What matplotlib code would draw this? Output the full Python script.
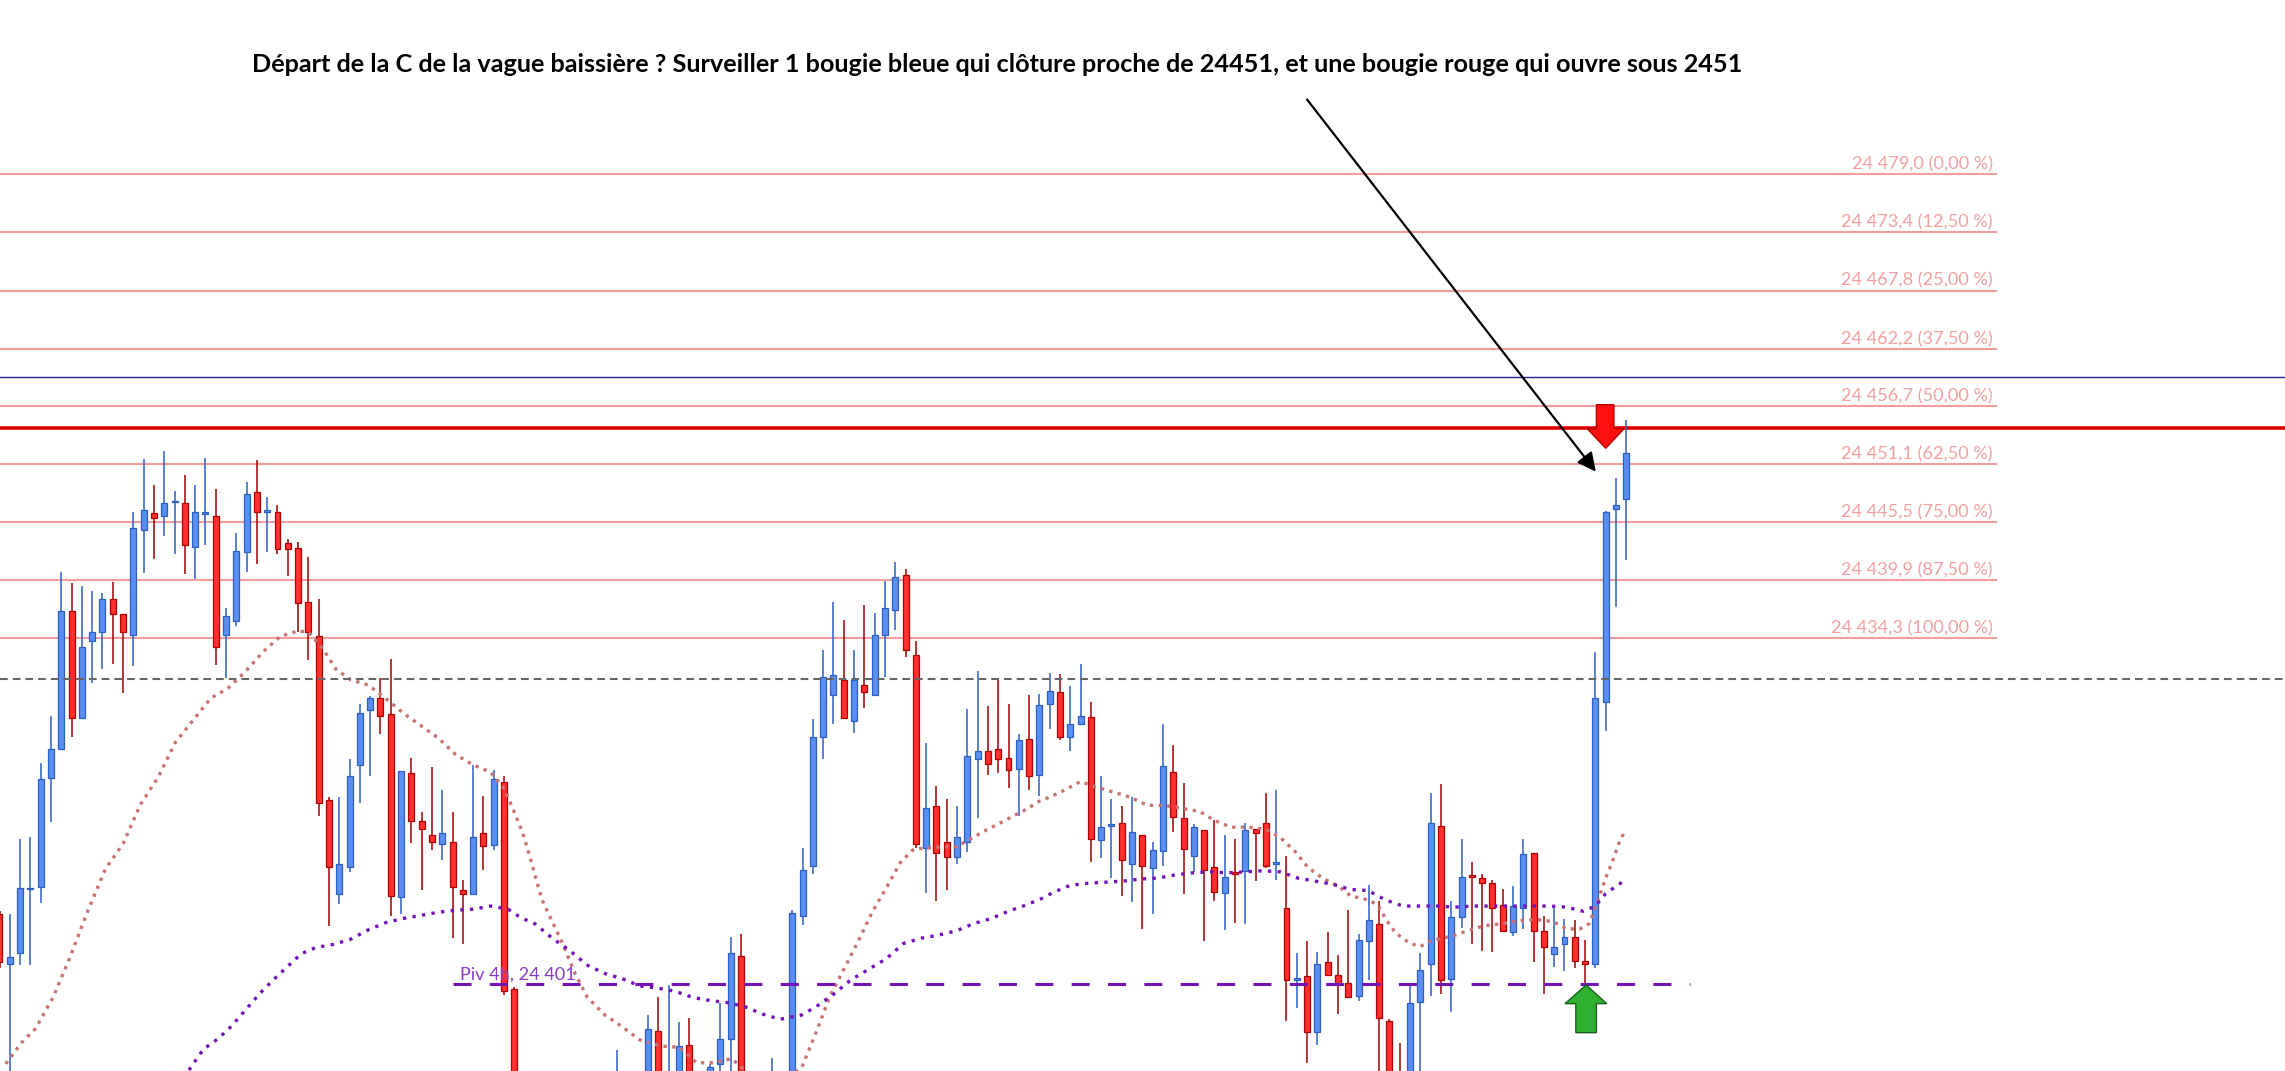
"""Bougies 4h + retracements de Fibonacci, avec annotations (vague C ?)."""
import matplotlib
matplotlib.use('Agg')
import matplotlib.pyplot as plt
from matplotlib.patches import Polygon
import numpy as np

plt.rcParams['font.family'] = ['Lato', 'DejaVu Sans']

nan = float('nan')

# === données (index -1 .. 157, nan = hors écran) ===
bougie_idx = list(range(-1, 158))
bougie_open = [
    24407.7, 24402.9, 24404.0, 24410.1, 24410.3, 24420.8, 24423.6, 24436.9, 24426.6, 24434.0,
    24434.9, 24438.1, 24436.6, 24434.6, 24444.7, 24446.4, 24446.1, 24447.4, 24447.3, 24443.1,
    24446.3, 24446.1, 24434.6, 24436.0, 24442.6, 24448.4, 24446.5, 24446.5, 24443.5, 24443.0,
    24437.8, 24434.5, 24418.7, 24409.7, 24412.3, 24422.1, 24427.4, 24428.5, 24427.0, 24409.4,
    24421.3, 24416.7, 24415.3, 24414.5, 24414.7, 24410.0, 24409.7, 24415.5, 24414.4, 24420.5,
    24400.5, nan, nan, nan, nan, nan, nan, nan, nan, nan,
    24388.0, nan, nan, 24390.0, 24396.5, 24388.0, 24390.0, 24395.1, nan, 24391.0,
    24393.3, 24395.7, 24403.7, nan, nan, 24388.0, nan, 24388.0, 24407.5, 24412.4,
    24424.8, 24428.8, 24430.3, 24426.3, 24429.8, 24428.8, 24434.6, 24437.0, 24440.4, 24432.7,
    24414.1, 24418.1, 24414.7, 24413.2, 24414.7, 24422.7, 24423.4, 24423.6, 24422.8, 24421.7,
    24424.6, 24421.1, 24428.0, 24429.1, 24424.8, 24426.0, 24426.7, 24414.9, 24416.2, 24416.5,
    24412.6, 24415.3, 24412.2, 24413.8, 24421.4, 24417.0, 24413.3, 24415.8, 24412.3, 24409.8,
    24411.8, 24411.9, 24415.9, 24416.5, 24412.6, 24408.3, 24401.4, 24401.8, 24396.4, 24403.1,
    24401.9, 24401.1, 24399.8, 24405.1, 24406.8, 24397.4, 24391.0, 24390.0, 24399.3, 24402.9,
    24416.2, 24401.5, 24407.4, 24411.5, 24411.2, 24410.7, 24408.6, 24406.0, 24408.3, 24413.6,
    24406.1, 24403.9, 24404.8, 24405.5, 24403.2, 24402.9, 24428.2, 24446.8, 24447.7,
]
bougie_high = [
    24408.0, 24407.7, 24415.0, 24415.2, 24422.3, 24426.8, 24440.7, 24439.6, 24439.3, 24438.9,
    24438.7, 24439.7, 24436.6, 24446.5, 24451.6, 24449.1, 24452.3, 24448.5, 24450.0, 24449.1,
    24451.7, 24448.7, 24437.2, 24444.4, 24449.4, 24451.5, 24447.9, 24447.1, 24443.9, 24443.6,
    24442.1, 24438.1, 24419.0, 24419.0, 24422.7, 24428.0, 24428.7, 24430.5, 24432.3, 24421.5,
    24422.8, 24417.6, 24421.9, 24419.7, 24417.6, 24411.0, 24422.1, 24419.1, 24421.6, 24421.0,
    24400.7, nan, nan, nan, nan, nan, nan, nan, nan, nan,
    24394.6, nan, nan, 24398.0, 24399.7, 24400.9, 24397.3, 24397.7, nan, 24393.3,
    24399.2, 24405.5, 24405.8, nan, nan, 24393.9, nan, 24408.1, 24414.1, 24426.5,
    24433.2, 24437.8, 24436.1, 24433.2, 24437.5, 24436.7, 24439.8, 24441.6, 24441.0, 24434.0,
    24424.2, 24420.1, 24418.8, 24418.1, 24427.5, 24431.1, 24427.8, 24430.4, 24428.0, 24425.1,
    24428.8, 24428.9, 24431.0, 24430.9, 24429.7, 24431.8, 24428.2, 24421.0, 24418.8, 24418.1,
    24419.0, 24415.3, 24414.7, 24426.0, 24424.0, 24420.4, 24416.4, 24415.8, 24416.8, 24415.3,
    24415.0, 24416.5, 24415.9, 24419.4, 24419.7, 24413.3, 24404.0, 24405.1, 24404.1, 24406.0,
    24403.8, 24408.1, 24405.8, 24410.5, 24409.0, 24397.6, 24395.3, 24400.9, 24404.0, 24419.4,
    24420.3, 24409.0, 24415.0, 24412.7, 24411.6, 24411.0, 24410.1, 24410.4, 24415.0, 24413.6,
    24407.5, 24408.3, 24407.3, 24407.2, 24405.2, 24433.0, 24446.6, 24449.7, 24455.3,
]
bougie_low = [
    24402.5, 24390.0, 24402.8, 24402.8, 24408.8, 24416.6, 24423.6, 24424.8, 24426.6, 24430.0,
    24431.3, 24431.8, 24429.0, 24431.6, 24440.6, 24441.9, 24444.2, 24442.4, 24440.5, 24440.0,
    24443.3, 24431.7, 24430.5, 24435.5, 24440.7, 24441.5, 24442.6, 24442.4, 24440.3, 24434.9,
    24432.2, 24417.2, 24406.6, 24408.7, 24411.8, 24418.4, 24421.0, 24425.1, 24407.5, 24407.7,
    24414.6, 24410.0, 24413.9, 24412.9, 24405.4, 24404.8, 24409.7, 24412.0, 24413.9, 24399.9,
    24383.0, nan, nan, nan, nan, nan, nan, nan, nan, nan,
    24386.0, nan, nan, 24388.0, 24389.0, 24386.0, 24388.0, 24389.0, nan, 24389.0,
    24391.0, 24391.0, 24388.0, nan, nan, 24386.0, nan, 24386.0, 24406.7, 24411.6,
    24422.7, 24426.0, 24426.6, 24425.2, 24427.6, 24428.8, 24430.6, 24435.1, 24432.5, 24414.1,
    24409.8, 24409.0, 24410.0, 24412.6, 24413.7, 24417.0, 24421.1, 24421.3, 24419.9, 24417.2,
    24419.7, 24419.1, 24425.6, 24424.5, 24423.4, 24425.9, 24412.7, 24413.1, 24411.2, 24409.5,
    24408.9, 24406.3, 24407.7, 24412.4, 24415.6, 24409.7, 24411.8, 24405.1, 24409.0, 24406.2,
    24406.9, 24406.8, 24410.9, 24412.2, 24411.0, 24397.4, 24398.7, 24393.4, 24395.1, 24401.9,
    24398.1, 24399.7, 24399.4, 24401.4, 24390.0, 24386.0, 24386.0, 24388.0, 24391.0, 24399.8,
    24400.0, 24398.3, 24406.4, 24404.8, 24404.2, 24404.1, 24406.1, 24405.6, 24406.3, 24403.1,
    24400.0, 24402.6, 24402.2, 24402.5, 24400.9, 24402.5, 24425.4, 24437.3, 24441.8,
]
bougie_close = [
    24403.1, 24403.6, 24410.2, 24410.2, 24420.7, 24423.6, 24436.9, 24426.6, 24433.5, 24434.9,
    24438.1, 24436.6, 24434.9, 24444.9, 24446.7, 24445.9, 24447.3, 24447.5, 24443.3, 24446.5,
    24446.4, 24433.5, 24436.4, 24442.7, 24448.2, 24446.5, 24446.7, 24442.9, 24442.9, 24437.7,
    24434.9, 24418.4, 24412.3, 24412.6, 24421.0, 24427.1, 24428.5, 24426.8, 24409.5, 24421.5,
    24416.7, 24415.9, 24414.7, 24415.5, 24410.3, 24409.7, 24415.2, 24414.3, 24420.7, 24400.3,
    24385.0, nan, nan, nan, nan, nan, nan, nan, nan, nan,
    24391.0, nan, nan, 24396.7, 24391.0, 24391.0, 24395.0, 24391.0, nan, 24393.0,
    24395.7, 24404.0, 24390.0, nan, nan, 24390.0, nan, 24407.8, 24412.0, 24424.8,
    24430.6, 24430.8, 24426.6, 24430.3, 24429.1, 24434.6, 24437.2, 24440.2, 24433.2, 24414.5,
    24417.9, 24413.6, 24413.2, 24415.2, 24423.0, 24423.4, 24422.2, 24422.7, 24421.6, 24424.5,
    24421.0, 24427.9, 24429.2, 24424.8, 24426.0, 24426.8, 24415.0, 24416.1, 24416.4, 24412.9,
    24415.6, 24412.4, 24413.9, 24422.0, 24417.1, 24414.0, 24416.1, 24412.0, 24409.9, 24411.3,
    24411.6, 24415.8, 24415.5, 24412.4, 24412.7, 24401.4, 24401.6, 24396.4, 24402.9, 24401.9,
    24400.9, 24399.7, 24405.2, 24407.2, 24397.7, 24389.0, 24389.0, 24399.2, 24402.3, 24416.5,
    24401.4, 24407.4, 24411.3, 24411.3, 24410.7, 24408.3, 24406.1, 24408.5, 24413.5, 24406.1,
    24404.6, 24404.6, 24405.5, 24403.2, 24402.9, 24428.5, 24446.5, 24447.1, 24452.1,
]

# moyenne mobile rapide (pointillés rose) : position en bougies, valeur
mm_rapide_x = [-0.4, 1.1, 2.5, 4.2, 5.9, 7.6, 9.3, 11.0, 12.7, 14.4, 16.1, 17.8, 19.5, 21.2,
               22.9, 24.6, 26.3, 28.0, 29.0, 30.4, 31.7, 33.1, 34.8, 36.5, 38.2, 39.9, 41.6,
               43.3, 45.0, 46.7, 48.1, 49.1, 49.8, 50.5, 51.0, 51.7, 52.5, 53.6, 54.9, 56.1,
               57.8, 59.3, 61.2, 63.3, 65.0, 66.7, 68.4, 70.1, 71.5, 74.0, 76.9, 78.3, 79.6,
               81.0, 82.4, 83.7, 85.1, 86.5, 87.8, 89.2, 90.5, 91.9, 93.2, 94.6, 96.0, 97.3,
               98.7, 100.0, 101.0, 102.3, 104.0, 105.4, 107.1, 108.8, 110.5, 112.2, 113.9,
               115.6, 116.9, 118.6, 120.3, 122.0, 123.4, 124.8, 126.1, 127.5, 129.2, 130.2,
               131.9, 132.9, 133.6, 134.6, 136.0, 137.0, 138.1, 140.1, 141.5, 143.2, 144.9,
               146.6, 148.3, 149.9, 151.2, 152.5, 153.4, 154.2, 155.0, 155.7, 156.3, 156.8]
mm_rapide_y = [24393.3, 24395.3, 24396.7, 24399.7, 24403.7, 24408.1, 24412.1, 24414.5, 24418.3,
               24420.9, 24424.3, 24426.4, 24428.5, 24429.5, 24431.1, 24433.0, 24434.5, 24435.0,
               24434.9, 24433.3, 24431.3, 24430.3, 24429.8, 24428.5, 24427.1, 24425.9, 24424.7,
               24423.1, 24422.1, 24421.4, 24419.7, 24417.3, 24415.6, 24413.3, 24411.5, 24409.1,
               24407.4, 24405.1, 24402.0, 24399.7, 24398.0, 24397.0, 24395.6, 24395.0, 24394.9,
               24393.4, 24393.4, 24393.8, 24392.6, 24391.0, 24392.9, 24396.3, 24399.7, 24402.4,
               24405.1, 24407.8, 24410.2, 24412.7, 24414.0, 24414.1, 24414.2, 24414.2, 24414.9,
               24415.7, 24416.4, 24417.1, 24417.8, 24418.6, 24419.0, 24419.6, 24420.5, 24420.0,
               24419.5, 24419.0, 24418.2, 24418.2, 24417.9, 24417.6, 24416.8, 24416.1, 24416.1,
               24415.9, 24415.1, 24413.8, 24412.2, 24411.2, 24410.3, 24409.5, 24409.1, 24408.6,
               24407.3, 24405.9, 24404.9, 24404.6, 24405.2, 24405.6, 24406.1, 24406.6, 24406.8,
               24407.1, 24407.2, 24407.0, 24406.3, 24406.3, 24406.8, 24408.9, 24411.2, 24412.9,
               24414.6, 24415.6]

# moyenne mobile lente (pointillés violet)
mm_lente_x = [17.4, 18.8, 20.2, 21.5, 22.9, 24.3, 25.6, 27.0, 28.3, 29.7, 31.4, 33.1, 34.8,
              36.5, 38.2, 39.9, 41.6, 43.3, 45.0, 46.7, 48.4, 49.6, 51.0, 52.7, 54.4, 56.1,
              57.8, 59.5, 61.2, 62.9, 64.6, 66.3, 68.0, 69.7, 71.4, 73.1, 74.8, 76.9, 78.3,
              80.0, 81.7, 83.4, 85.1, 86.8, 88.5, 90.2, 91.9, 93.6, 95.3, 97.0, 98.7, 100.4,
              101.3, 103.0, 104.7, 106.4, 108.1, 109.8, 111.5, 113.2, 114.9, 116.6, 118.3,
              120.0, 121.7, 123.4, 125.1, 126.8, 128.5, 130.2, 131.9, 133.6, 135.3, 137.0,
              138.7, 140.4, 142.1, 143.9, 145.6, 147.3, 149.6, 151.2, 152.8, 154.0, 155.0,
              156.0, 156.6]
mm_lente_y = [24392.7, 24394.7, 24395.7, 24396.9, 24398.5, 24400.1, 24401.4, 24402.7, 24403.9,
              24404.5, 24404.8, 24405.3, 24406.2, 24406.9, 24407.3, 24407.6, 24407.9, 24408.1,
              24408.2, 24408.5, 24408.2, 24407.4, 24406.8, 24405.4, 24404.2, 24402.8, 24402.0,
              24401.5, 24400.8, 24400.6, 24400.3, 24399.7, 24399.4, 24399.2, 24398.8, 24398.1,
              24397.6, 24398.0, 24398.8, 24400.0, 24401.4, 24402.4, 24403.4, 24404.9, 24405.4,
              24405.7, 24406.1, 24406.8, 24407.3, 24408.0, 24408.6, 24409.3, 24409.8, 24410.5,
              24410.7, 24410.8, 24410.9, 24411.1, 24411.2, 24411.5, 24411.7, 24411.8, 24411.7,
              24411.8, 24411.9, 24411.8, 24411.2, 24410.9, 24410.6, 24410.1, 24410.0, 24409.1,
              24408.5, 24408.5, 24408.5, 24408.4, 24408.5, 24408.5, 24408.5, 24408.5, 24408.5,
              24408.4, 24408.0, 24408.5, 24409.7, 24410.4, 24410.8]

# retracements de Fibonacci
fibo_niveaux = [24479.0, 24473.4, 24467.8, 24462.2, 24456.7, 24451.1, 24445.5, 24439.9, 24434.3]
fibo_pct = [0.0, 12.5, 25.0, 37.5, 50.0, 62.5, 75.0, 87.5, 100.0]

ligne_bleue = 24459.5
ligne_rouge = 24454.6
ligne_grise = 24430.4
pivot_4h = 24401.0

TITRE = ("Départ de la C de la vague baissière ? Surveiller 1 bougie bleue qui clôture "
         "proche de 24451, et une bougie rouge qui ouvre sous 2451")

BLEU = '#5b8ef2'
BLEU_BORD = '#2c5fc2'
ROUGE = '#ff3030'
ROUGE_BORD = '#b00000'
ROSE_FIBO = '#f29c9c'
ROSE_MM = '#c87474'
VIOLET = '#7412b8'


def fr(v, dec):
    return f'{v:,.{dec}f}'.replace(',', ' ').replace('.', ',')


fig = plt.figure(figsize=(22.85, 10.71), dpi=100)
ax = fig.add_axes([0, 0, 1, 1])
ax.set_xlim(-0.952, 220.98)
ax.set_ylim(24392.61, 24495.79)
ax.axis('off')

# lignes horizontales
for niv, pct in zip(fibo_niveaux, fibo_pct):
    ax.hlines(niv, -1, 193.0, color=ROSE_FIBO, lw=1.5, zorder=1)
    ax.text(192.6, niv + 0.45, f'{fr(niv, 1)} ({fr(pct, 2)} %)', ha='right',
            va='baseline', fontsize=13.1, color='#f0a0a0', zorder=7)
ax.axhline(ligne_bleue, color='#22228f', lw=1.0, zorder=1)
ax.axhline(ligne_rouge, color='#e00000', lw=2.6, zorder=1)

# bougies
x = np.array(bougie_idx, dtype=float)
o = np.array(bougie_open)
h = np.array(bougie_high)
lo = np.array(bougie_low)
c = np.array(bougie_close)
ok = ~np.isnan(o)
hausse = ok & (c >= o)
baisse = ok & (c < o)

ax.vlines(x[hausse], lo[hausse], h[hausse], color=BLEU_BORD, lw=1.1, zorder=2)
ax.vlines(x[baisse], lo[baisse], h[baisse], color='#a00000', lw=1.1, zorder=2)
ax.bar(x[hausse], np.maximum(c - o, 0.12)[hausse], bottom=o[hausse], width=0.58,
       color=BLEU, edgecolor=BLEU_BORD, linewidth=0.9, zorder=3)
ax.bar(x[baisse], np.maximum(o - c, 0.12)[baisse], bottom=c[baisse], width=0.58,
       color=ROUGE, edgecolor=ROUGE_BORD, linewidth=0.9, zorder=3)

# moyennes mobiles et niveaux pointillés
ax.plot(mm_rapide_x, mm_rapide_y, color=ROSE_MM, lw=2.4, ls=(0, (1, 1.6)), zorder=4)
ax.plot(mm_lente_x, mm_lente_y, color=VIOLET, lw=2.4, ls=(0, (1, 1.9)), zorder=4)
ax.axhline(ligne_grise, color='#666666', lw=1.5, ls=(0, (3.7, 2.4)), zorder=4)
ax.hlines(pivot_4h, 43.0, 163.2, color=VIOLET, lw=2.2, ls=(0, (5.9, 6.0)), zorder=4)
ax.text(43.7, pivot_4h + 0.45, f'Piv 4h, {fr(pivot_4h, 0)}', ha='left', va='baseline',
        fontsize=13.1, color='#8a3cc6', zorder=7)

# flèches
fleche_rouge = Polygon([(154.1, 24456.8), (155.8, 24456.8), (155.8, 24454.5), (156.8, 24454.5),
                        (155.0, 24452.6), (153.2, 24454.5), (154.1, 24454.5)],
                       closed=True, facecolor='#ff1010', edgecolor='#b80000', lw=1.0, zorder=6)
ax.add_patch(fleche_rouge)
fleche_verte = Polygon([(152.1, 24396.3), (154.1, 24396.3), (154.1, 24399.1), (155.1, 24399.1),
                        (153.1, 24400.9), (151.05, 24399.1), (152.1, 24399.1)],
                       closed=True, facecolor='#30b030', edgecolor='#1d5e1d', lw=1.0, zorder=6)
ax.add_patch(fleche_verte)

ax.annotate('', xy=(154.05, 24450.35), xytext=(126.0, 24486.2),
            arrowprops=dict(arrowstyle='-|>', color='black', lw=1.6, mutation_scale=28,
                            shrinkA=0, shrinkB=0), zorder=6)

fig.text(0.4363, 0.940, TITRE, ha='center', va='center', fontsize=18.2,
         fontweight='bold', color='black')

fig.savefig('out.png', dpi=100, facecolor='white')
